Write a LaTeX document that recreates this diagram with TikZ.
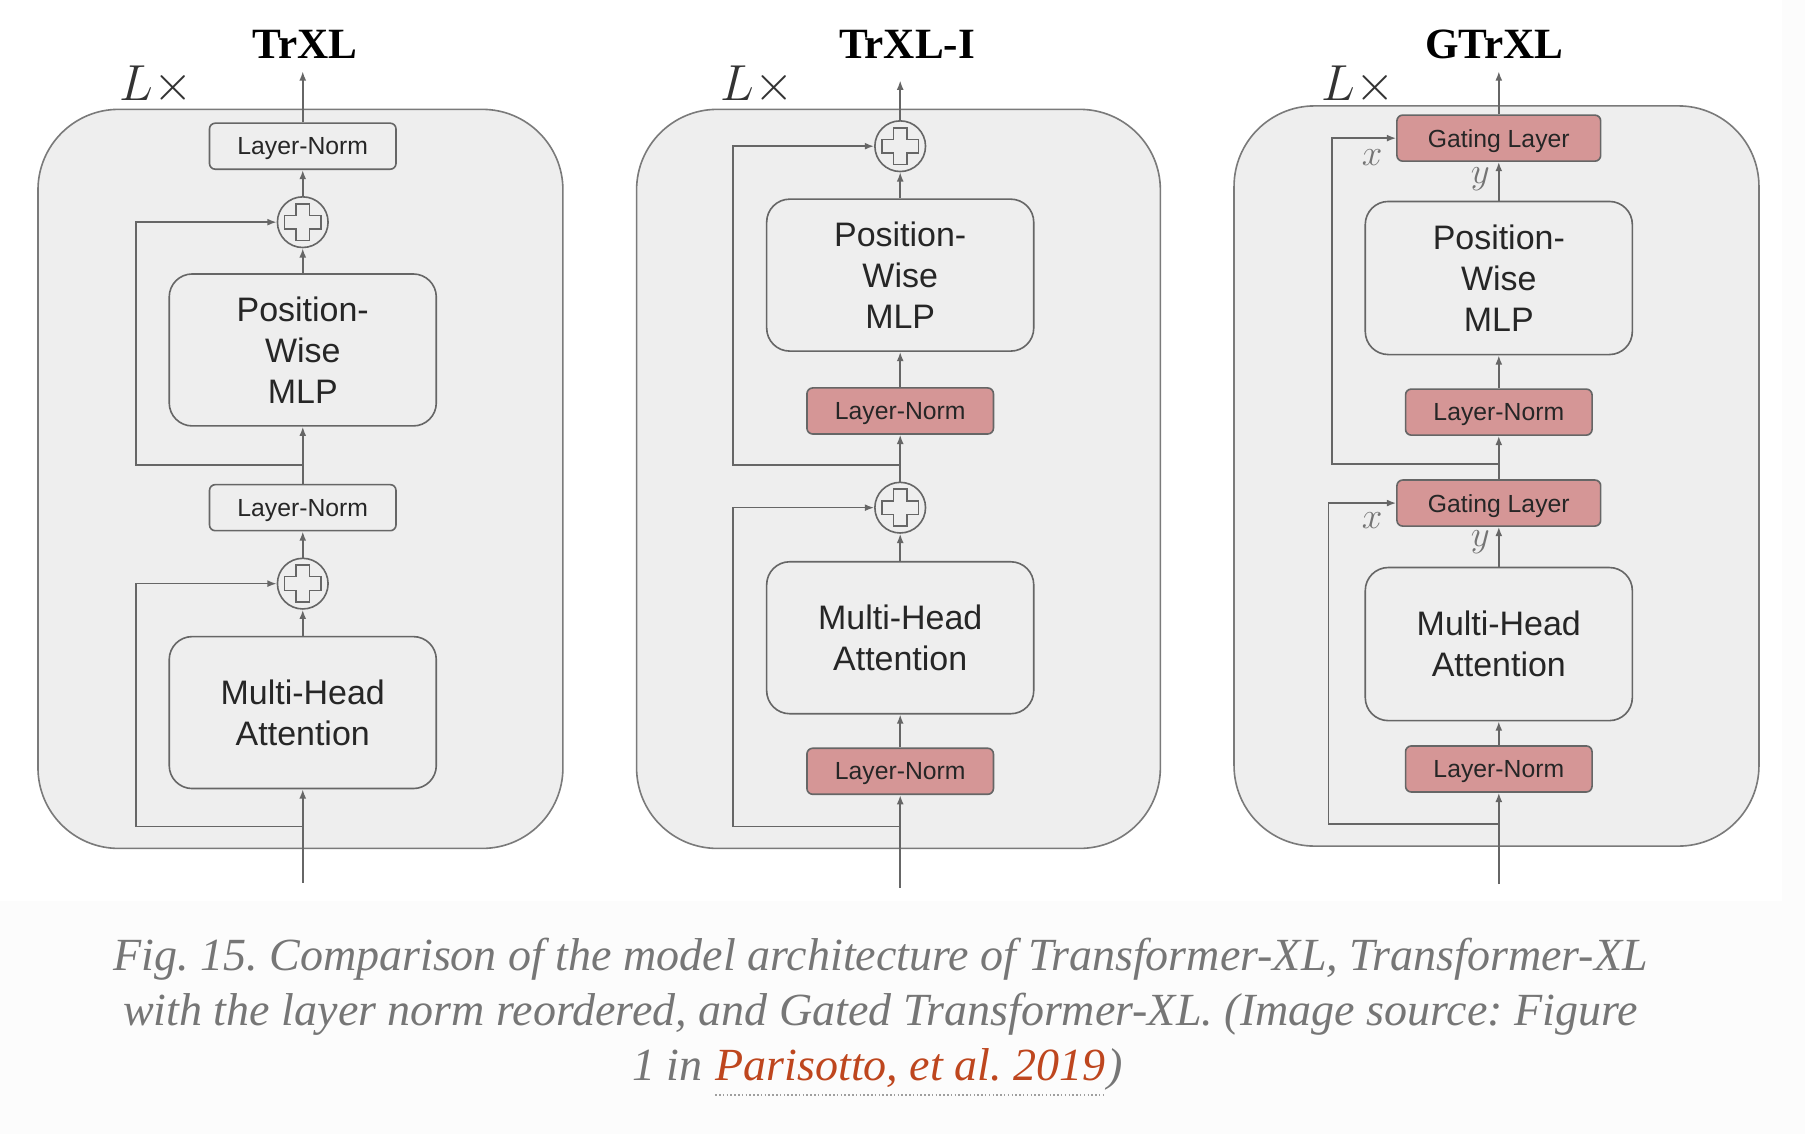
\RequirePackage{fix-cm}
\documentclass[tikz,border=0pt]{standalone}
\usepackage{fontspec}
\setmainfont{Liberation Serif}
\newfontfamily\boxfont{Liberation Sans}
\usetikzlibrary{arrows.meta}
\definecolor{panelbg}{HTML}{EEEEEE}
\definecolor{redbox}{HTML}{D59696}
\definecolor{linegray}{HTML}{666666}
\definecolor{bordergray}{HTML}{7A7A7A}
\definecolor{capgray}{HTML}{767676}
\definecolor{linkred}{RGB}{190,70,30}
\definecolor{pagebg}{HTML}{FCFCFC}
\definecolor{lblgray}{HTML}{747474}
\frenchspacing
\begin{document}
\begin{tikzpicture}[x=1pt,y=-1pt,
  pnl/.style={draw=bordergray, fill=panelbg, line width=1.4pt, rounded corners=70pt},
  smallbox/.style={draw=linegray, line width=1.4pt, rounded corners=5pt, minimum width=162pt, minimum height=40pt, inner sep=0pt, text depth=0pt, font=\boxfont\fontsize{21.5}{26}\selectfont, text=black!85},
  redsmall/.style={smallbox, fill=redbox},
  gatebox/.style={redsmall, minimum width=177pt},
  bigbox/.style={draw=linegray, line width=1.4pt, rounded corners=20pt, minimum width=232pt, minimum height=132pt, inner sep=0pt, align=center, text=black!85, font=\boxfont\fontsize{29.5}{35.5}\selectfont, execute at begin node={\rule{0pt}{30.5pt}}},
  plusnode/.style={circle, draw=linegray, line width=1.4pt, minimum size=44pt, inner sep=0pt,
    path picture={\draw[linegray,line width=1.3pt] (path picture bounding box.center) ++(-6pt,-16pt) -- ++(12pt,0pt) -- ++(0pt,10pt) -- ++(10pt,0pt) -- ++(0pt,12pt) -- ++(-10pt,0pt) -- ++(0pt,10pt) -- ++(-12pt,0pt) -- ++(0pt,-10pt) -- ++(-10pt,0pt) -- ++(0pt,-12pt) -- ++(10pt,0pt) -- cycle;}},
  arr/.style={draw=linegray, line width=1.4pt, -{Latex[length=8pt,width=6pt]}},
  ttl/.style={font=\bfseries\fontsize{37.5}{40}\selectfont, anchor=base, inner sep=0pt},
  lx/.style={font=\fontsize{44}{48}\selectfont, text=black!80, anchor=base west, inner sep=0pt},
  lbl/.style={font=\fontsize{32}{34}\selectfont, text=lblgray, inner sep=0pt},
  captxt/.style={font=\itshape\fontsize{40}{48}\selectfont, text=capgray, inner sep=0pt, anchor=base}
]
\useasboundingbox (0,0) rectangle (1568,985);
\fill[pagebg] (0,0) rectangle (1568,985);
\fill[white] (0,0) rectangle (1548,783);

% ---------------- Panel 1: TrXL ----------------
\draw[pnl] (33,95) rectangle (489,737);
\node[ttl] (t1) at (265,51) {TrXL};
\node[lx] (l1) at (104,87) {$L\times$};
\node[smallbox] (LNa1) at (263,127) {Layer-Norm};
\node[plusnode] (pA1) at (263,193) {};
\node[bigbox] (MLP1) at (263,304) {Position-\\Wise\\MLP};
\node[smallbox] (LNb1) at (263,441) {Layer-Norm};
\node[plusnode] (pB1) at (263,507) {};
\node[bigbox] (MHA1) at (263,619) {Multi-Head\\Attention};
\coordinate (in1) at (263,767);
\coordinate (out1) at (263,62);
\coordinate (brA1) at (263,404);
\coordinate (brB1) at (263,718);
\draw[arr] (in1) -- (MHA1.south);
\draw[arr] (MHA1.north) -- (pB1.south);
\draw[arr] (pB1.north) -- (LNb1.south);
\draw[arr] (LNb1.north) -- (MLP1.south);
\draw[arr] (MLP1.north) -- (pA1.south);
\draw[arr] (pA1.north) -- (LNa1.south);
\draw[arr] (LNa1.north) -- (out1);
\draw[arr] (brA1) -- ++(-145,0) |- (pA1.west);
\draw[arr] (brB1) -- ++(-145,0) |- (pB1.west);

% ---------------- Panel 2: TrXL-I ----------------
\draw[pnl] (553,95) rectangle (1008,737);
\node[ttl] (t2) at (788,51) {TrXL-I};
\node[lx] (l2) at (626,87) {$L\times$};
\node[plusnode] (pA2) at (782,127) {};
\node[bigbox] (MLP2) at (782,239) {Position-\\Wise\\MLP};
\node[redsmall] (LNa2) at (782,357) {Layer-Norm};
\node[plusnode] (pB2) at (782,441) {};
\node[bigbox] (MHA2) at (782,554) {Multi-Head\\Attention};
\node[redsmall] (LNb2) at (782,670) {Layer-Norm};
\coordinate (in2) at (782,771);
\coordinate (out2) at (782,70);
\coordinate (brA2) at (782,404);
\coordinate (brB2) at (782,718);
\draw[arr] (in2) -- (LNb2.south);
\draw[arr] (LNb2.north) -- (MHA2.south);
\draw[arr] (MHA2.north) -- (pB2.south);
\draw[arr] (pB2.north) -- (LNa2.south);
\draw[arr] (LNa2.north) -- (MLP2.south);
\draw[arr] (MLP2.north) -- (pA2.south);
\draw[arr] (pA2.north) -- (out2);
\draw[arr] (brA2) -- ++(-145,0) |- (pA2.west);
\draw[arr] (brB2) -- ++(-145,0) |- (pB2.west);

% ---------------- Panel 3: GTrXL ----------------
\draw[pnl] (1072,92) rectangle (1528,735);
\node[ttl] (t3) at (1298,51) {GTrXL};
\node[lx] (l3) at (1148,87) {$L\times$};
\node[gatebox] (GLa3) at (1302,120) {Gating Layer};
\node[bigbox, minimum height=133pt] (MLP3) at (1302,241.5) {Position-\\Wise\\MLP};
\node[redsmall] (LNa3) at (1302,358) {Layer-Norm};
\node[gatebox] (GLb3) at (1302,437) {Gating Layer};
\node[bigbox, minimum height=133pt] (MHA3) at (1302,559.5) {Multi-Head\\Attention};
\node[redsmall] (LNb3) at (1302,668) {Layer-Norm};
\node[lbl] (xa3) at (1192,137) {$x$};
\node[lbl] (ya3) at (1286,156) {$y$};
\node[lbl] (xb3) at (1192,452) {$x$};
\node[lbl] (yb3) at (1286,471) {$y$};
\coordinate (in3) at (1302,768);
\coordinate (out3) at (1302,62);
\coordinate (brA3) at (1302,403);
\coordinate (brB3) at (1302,716);
\draw[arr] (in3) -- (LNb3.south);
\draw[arr] (LNb3.north) -- (MHA3.south);
\draw[arr] (MHA3.north) -- (GLb3.south);
\draw[arr] (GLb3.north) -- (LNa3.south);
\draw[arr] (LNa3.north) -- (MLP3.south);
\draw[arr] (MLP3.north) -- (GLa3.south);
\draw[arr] (GLa3.north) -- (out3);
\draw[arr] (brA3) -- ++(-145,0) |- (GLa3.west);
\draw[arr] (brB3) -- ++(-148,0) |- (GLb3.west);

% ---------------- Caption ----------------
\node[captxt] (c1) at (765,843) {Fig. 15. Comparison of the model architecture of Transformer-XL, Transformer-XL};
\node[captxt] (c2) at (765,891) {with the layer norm reordered, and Gated Transformer-XL. (Image source: Figure};
\node[captxt, text=linkred] (c3b) at (791,939) {Parisotto, et al. 2019};
\node[captxt, anchor=base east] (c3a) at ([xshift=-11pt]c3b.base west) {1 in};
\node[captxt, anchor=base west] (c3c) at ([xshift=1pt]c3b.base east) {)};
\draw[capgray!70, line width=1.3pt, dotted] ([yshift=-12pt]c3b.base west) -- ([yshift=-12pt]c3b.base east);
\end{tikzpicture}
\end{document}
